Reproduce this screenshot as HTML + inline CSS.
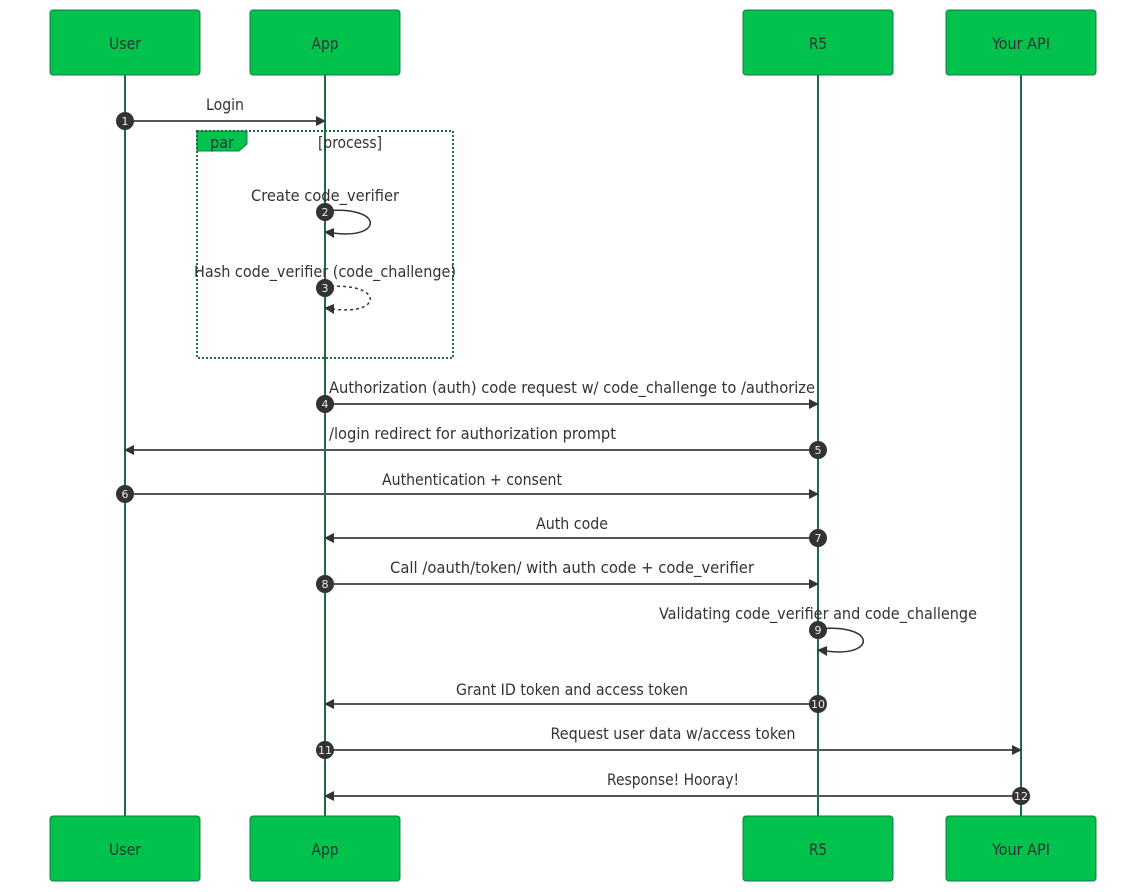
<!DOCTYPE html>
<html><head><meta charset="utf-8"><style>
html,body{margin:0;padding:0;background:#fff}
svg{display:block}
text{font-family:"DejaVu Sans Condensed","DejaVu Sans",sans-serif;font-stretch:condensed;font-size:16px;fill:#333;text-anchor:middle}
.a{fill:#00c24d;stroke:#1a7a45;stroke-width:1}
.l{stroke:#1b6e40;stroke-width:2;fill:none}
.m{stroke:#555;stroke-width:2;fill:none}
.n{fill:#333}
text.d{font-family:"DejaVu Sans",sans-serif;font-stretch:normal;fill:#eee;font-size:11px}
</style></head><body>
<svg width="1146" height="892" viewBox="0 0 1146 892" xmlns="http://www.w3.org/2000/svg">
<g class="l"><path d="M125 75V816M325 75V816M818 75V816M1021 75V816"/></g>
<g class="a">
<rect x="50" y="10" width="150" height="65" rx="3"/><rect x="250" y="10" width="150" height="65" rx="3"/><rect x="743" y="10" width="150" height="65" rx="3"/><rect x="946" y="10" width="150" height="65" rx="3"/>
<rect x="50" y="816" width="150" height="65" rx="3"/><rect x="250" y="816" width="150" height="65" rx="3"/><rect x="743" y="816" width="150" height="65" rx="3"/><rect x="946" y="816" width="150" height="65" rx="3"/>
</g>
<g>
<text x="125" y="49" textLength="32" lengthAdjust="spacingAndGlyphs">User</text><text x="325" y="49" textLength="27" lengthAdjust="spacingAndGlyphs">App</text><text x="818" y="49" textLength="18" lengthAdjust="spacingAndGlyphs">R5</text><text x="1021" y="49" textLength="58" lengthAdjust="spacingAndGlyphs">Your API</text>
<text x="125" y="855" textLength="32" lengthAdjust="spacingAndGlyphs">User</text><text x="325" y="855" textLength="27" lengthAdjust="spacingAndGlyphs">App</text><text x="818" y="855" textLength="18" lengthAdjust="spacingAndGlyphs">R5</text><text x="1021" y="855" textLength="58" lengthAdjust="spacingAndGlyphs">Your API</text>
</g>
<path d="M197 131H247V144L239 151H197Z" fill="#00c24d" stroke="#1a7a45"/>
<rect x="197" y="131" width="256" height="227" fill="none" stroke="#1b6e40" stroke-width="2" stroke-dasharray="2 2"/>
<text x="222" y="148" textLength="24" lengthAdjust="spacingAndGlyphs">par</text><text x="350" y="148" textLength="64" lengthAdjust="spacingAndGlyphs">[process]</text>
<g class="m">
<path d="M125 121H317M325 404H810M818 450H133M125 494H810M818 538H333M325 584H810M818 704H333M325 750H1013M1021 796H333"/>
</g>
<g fill="none" stroke="#333" stroke-width="1.5">
<path d="M325 211C384 205 384 240 333 233"/>
<path d="M325 287C384 281 384 316 333 309" stroke-dasharray="3 3"/>
<path d="M818 629C877 623 877 658 826 651"/>
</g>
<g class="n">
<path d="M326 121L316 116V126Z"/>
<path d="M819 404L809 399V409Z"/><path d="M124 450L134 445V455Z"/><path d="M819 494L809 489V499Z"/><path d="M324 538L334 533V543Z"/><path d="M819 584L809 579V589Z"/><path d="M324 704L334 699V709Z"/><path d="M1022 750L1012 745V755Z"/><path d="M324 796L334 791V801Z"/>
<path d="M324 232L334 228V238Z"/><path d="M324 308L334 304V314Z"/><path d="M817 650L827 646V656Z"/>
<circle cx="125" cy="121" r="9"/><circle cx="325" cy="212" r="9"/><circle cx="325" cy="288" r="9"/><circle cx="325" cy="404" r="9"/><circle cx="818" cy="450" r="9"/><circle cx="125" cy="494" r="9"/><circle cx="818" cy="538" r="9"/><circle cx="325" cy="584" r="9"/><circle cx="818" cy="630" r="9"/><circle cx="818" cy="704" r="9"/><circle cx="325" cy="750" r="9"/><circle cx="1021" cy="796" r="9"/>
</g>
<g>
<text class="d" x="125" y="125">1</text><text class="d" x="325" y="216">2</text><text class="d" x="325" y="292">3</text><text class="d" x="325" y="408">4</text><text class="d" x="818" y="454">5</text><text class="d" x="125" y="498">6</text><text class="d" x="818" y="542">7</text><text class="d" x="325" y="588">8</text><text class="d" x="818" y="634">9</text><text class="d" x="818" y="708">10</text><text class="d" x="325" y="754">11</text><text class="d" x="1021" y="800">12</text>
</g>
<g>
<text x="225" y="110" textLength="38" lengthAdjust="spacingAndGlyphs">Login</text>
<text x="325" y="201" textLength="148" lengthAdjust="spacingAndGlyphs">Create code_verifier</text>
<text x="325" y="277" textLength="262" lengthAdjust="spacingAndGlyphs">Hash code_verifier (code_challenge)</text>
<text x="572" y="393" textLength="486" lengthAdjust="spacingAndGlyphs">Authorization (auth) code request w/ code_challenge to /authorize</text>
<text x="472.500" y="439" textLength="287" lengthAdjust="spacingAndGlyphs">/login redirect for authorization prompt</text>
<text x="472" y="485" textLength="180" lengthAdjust="spacingAndGlyphs">Authentication + consent</text>
<text x="572" y="529" textLength="72" lengthAdjust="spacingAndGlyphs">Auth code</text>
<text x="572" y="573" textLength="364" lengthAdjust="spacingAndGlyphs">Call /oauth/token/ with auth code + code_verifier</text>
<text x="818" y="619" textLength="318" lengthAdjust="spacingAndGlyphs">Validating code_verifier and code_challenge</text>
<text x="572" y="695" textLength="232" lengthAdjust="spacingAndGlyphs">Grant ID token and access token</text>
<text x="673" y="739" textLength="245" lengthAdjust="spacingAndGlyphs">Request user data w/access token</text>
<text x="673" y="785" textLength="132" lengthAdjust="spacingAndGlyphs">Response! Hooray!</text>
</g>
</svg>
</body></html>
